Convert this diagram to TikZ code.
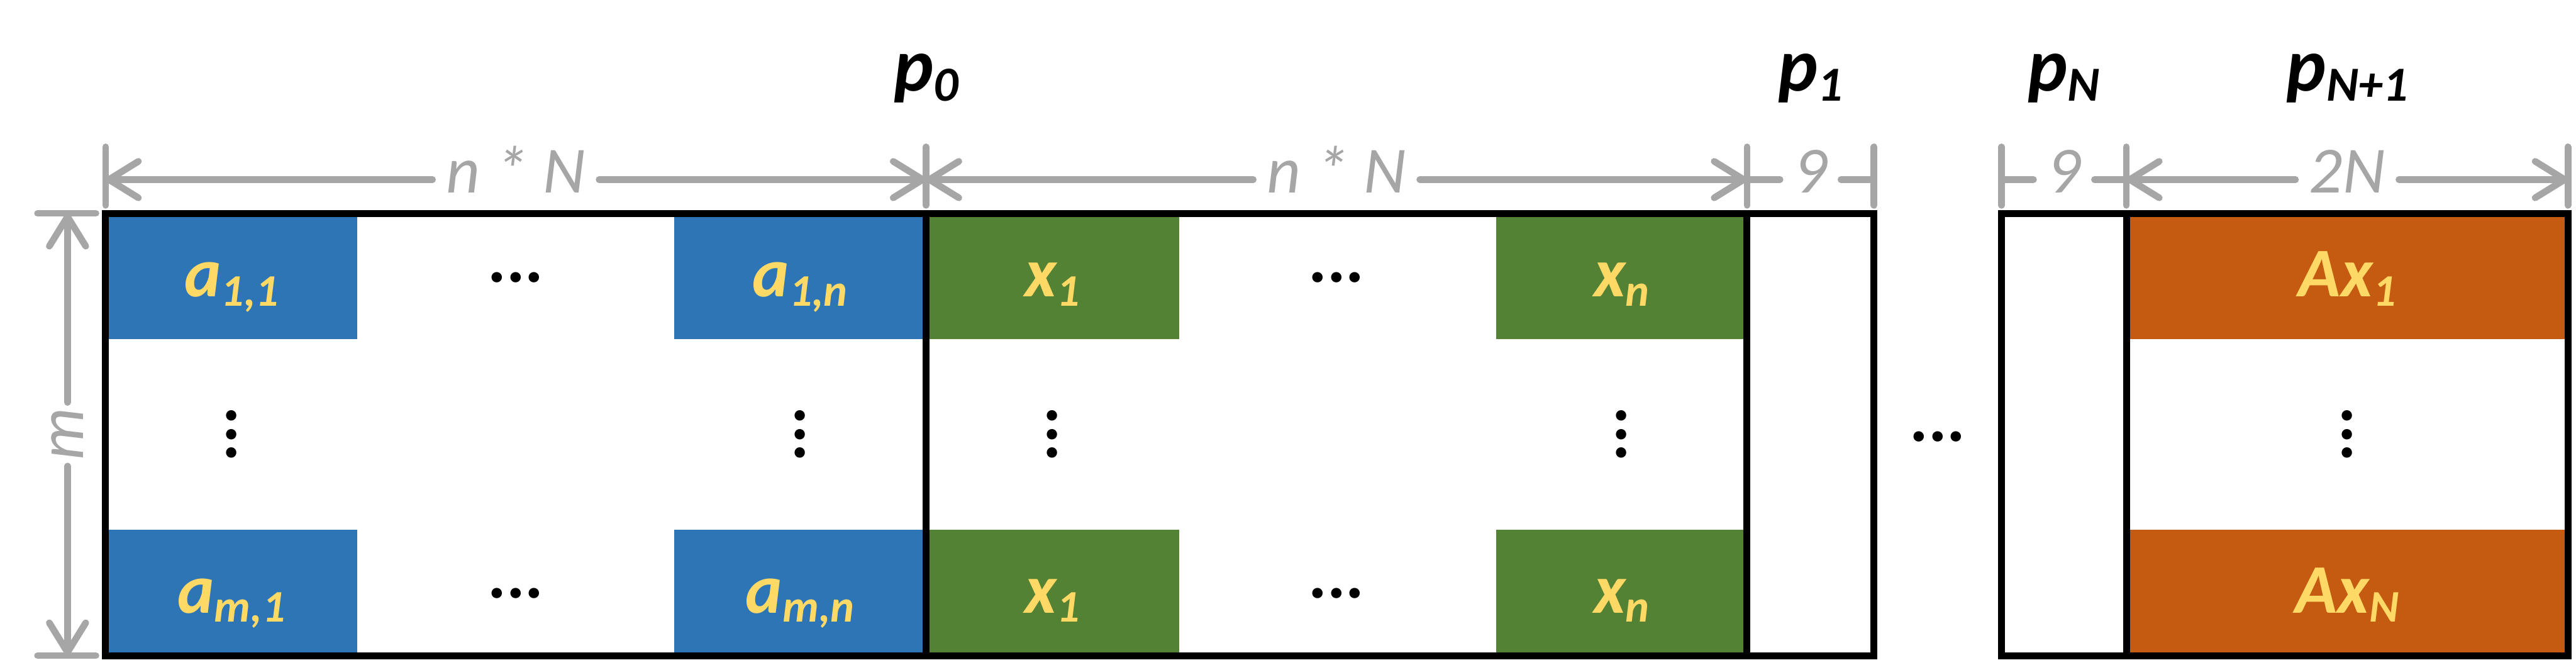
\documentclass[tikz,border=0pt]{standalone}
\usepackage{fontspec}
\setmainfont{Carlito}
\usetikzlibrary{arrows.meta}
\definecolor{dimgray}{HTML}{A6A6A6}
\definecolor{ablue}{HTML}{2E75B6}
\definecolor{xgreen}{HTML}{548235}
\definecolor{axorange}{HTML}{C55A11}
\definecolor{cellyellow}{HTML}{FFD966}
\newcommand{\lowsub}[2][24]{\raisebox{-0.13em}{\fontsize{#1}{#1}\selectfont #2}}

\begin{document}
\begin{tikzpicture}[
  border/.style={line width=1.3mm},
  dimline/.style={draw=dimgray, line width=1.25mm, line cap=round},
  dimarrow/.style={dimline, -{Straight Barb[length=5.5mm,width=6.8mm,round]}},
  dimlabel/.style={text=dimgray, font=\fontsize{35}{42}\selectfont\itshape, inner xsep=2.5mm, anchor=base},
  plabel/.style={font=\fontsize{40}{48}\selectfont\bfseries\itshape, anchor=base},
  celltxt/.style={text=cellyellow, font=\fontsize{37}{44}\selectfont\bfseries\itshape, anchor=base},
  dots/.style={font=\fontsize{37}{44}\selectfont\bfseries, inner sep=0pt}
]
\useasboundingbox (0,0) rectangle (48.07,12.40);

% coloured cells of p0 and p_{N+1}
\fill[ablue] (1.97,6.07) rectangle (6.67,8.42);
\fill[ablue] (12.58,6.07) rectangle (17.28,8.42);
\fill[ablue] (1.97,0.17) rectangle (6.67,2.52);
\fill[ablue] (12.58,0.17) rectangle (17.28,2.52);
\fill[xgreen] (17.28,6.07) rectangle (22.00,8.42);
\fill[xgreen] (27.92,6.07) rectangle (32.60,8.42);
\fill[xgreen] (17.28,0.17) rectangle (22.00,2.52);
\fill[xgreen] (27.92,0.17) rectangle (32.60,2.52);
\fill[axorange] (39.68,6.07) rectangle (47.92,8.42);
\fill[axorange] (39.68,0.17) rectangle (47.92,2.52);

% outlines
\draw[border] (1.97,0.17) rectangle (32.60,8.42);
\draw[border] (17.28,0.17) -- (17.28,8.42);
\draw[border] (32.60,0.17) rectangle (34.97,8.42);
\draw[border] (37.35,0.17) rectangle (47.92,8.42);
\draw[border] (39.68,0.17) -- (39.68,8.42);

% cell labels
\node[celltxt] (a11) at (4.32,6.865) {a\lowsub{1,1}};
\node[celltxt] (a1n) at (14.93,6.865) {a\lowsub{1,n}};
\node[celltxt] (am1) at (4.32,0.965) {a\lowsub{m,1}};
\node[celltxt] (amn) at (14.93,0.965) {a\lowsub{m,n}};
\node[celltxt] (x1t) at (19.64,6.865) {x\lowsub{1}};
\node[celltxt] (xnt) at (30.26,6.865) {x\lowsub{n}};
\node[celltxt] (x1b) at (19.64,0.965) {x\lowsub{1}};
\node[celltxt] (xnb) at (30.26,0.965) {x\lowsub{n}};
\node[celltxt] (ax1) at (43.80,6.865) {Ax\lowsub{1}};
\node[celltxt] (axN) at (43.80,0.965) {Ax\lowsub{N}};

% dots
\node[dots] (ha1) at (9.625,7.22) {...};
\node[dots] (ha2) at (9.625,1.33) {...};
\node[dots] (hx1) at (24.94,7.22) {...};
\node[dots] (hx2) at (24.94,1.33) {...};
\node[dots, rotate=90] (va1) at (4.32,4.30) {...};
\node[dots, rotate=90] (va2) at (14.93,4.30) {...};
\node[dots, rotate=90] (vx1) at (19.64,4.30) {...};
\node[dots, rotate=90] (vx2) at (30.26,4.30) {...};
\node[dots, rotate=90] (vax) at (43.80,4.30) {...};
\node[dots] (hgap) at (36.16,4.25) {...};

% page labels
\node[plabel] (p0) at (17.28,10.70) {p\lowsub[26]{0}};
\node[plabel] (p1) at (33.785,10.70) {p\lowsub[26]{1}};
\node[plabel] (pN) at (38.515,10.70) {p\lowsub[26]{N}};
\node[plabel] (pN1) at (43.80,10.70) {p\lowsub[26]{N+1}};

% widths
\coordinate (d0) at (1.97,9.05);
\coordinate (d1) at (17.28,9.05);
\coordinate (d2) at (32.60,9.05);
\coordinate (d3) at (34.97,9.05);
\coordinate (d4) at (37.35,9.05);
\coordinate (d5) at (39.68,9.05);
\coordinate (d6) at (47.92,9.05);
\foreach \t in {d0,d1,d2,d3,d4,d5,d6}
  \draw[dimline] ([yshift=-4.8mm]\t) -- ([yshift=6.1mm]\t);
\node[dimlabel] (w0) at (9.625,8.80) {n * N};
\node[dimlabel] (w1) at (24.94,8.80) {n * N};
\node[dimlabel] (w2) at (33.785,8.80) {9};
\node[dimlabel] (w3) at (38.515,8.80) {9};
\node[dimlabel] (w4) at (43.80,8.80) {2N};
\draw[dimarrow] (w0.west |- d0) -- (d0);
\draw[dimarrow] (w0.east |- d0) -- (d1);
\draw[dimarrow] (w1.west |- d0) -- (d1);
\draw[dimarrow] (w1.east |- d0) -- (d2);
\draw[dimline] (w2.west |- d0) -- (d2);
\draw[dimline] (w2.east |- d0) -- (d3);
\draw[dimline] (w3.west |- d0) -- (d4);
\draw[dimline] (w3.east |- d0) -- (d5);
\draw[dimarrow] (w4.west |- d0) -- (d5);
\draw[dimarrow] (w4.east |- d0) -- (d6);

% height
\coordinate (v0) at (1.26,8.42);
\coordinate (v1) at (1.26,0.17);
\draw[dimline] ([xshift=-5.6mm]v0) -- ([xshift=5.3mm]v0);
\draw[dimline] ([xshift=-5.6mm]v1) -- ([xshift=5.3mm]v1);
\node[dimlabel, anchor=center, rotate=90, inner xsep=1mm] (hm) at (1.26,4.30) {m};
\draw[dimarrow] (hm.east) -- (v0);
\draw[dimarrow] (hm.west) -- (v1);

\end{tikzpicture}
\end{document}
